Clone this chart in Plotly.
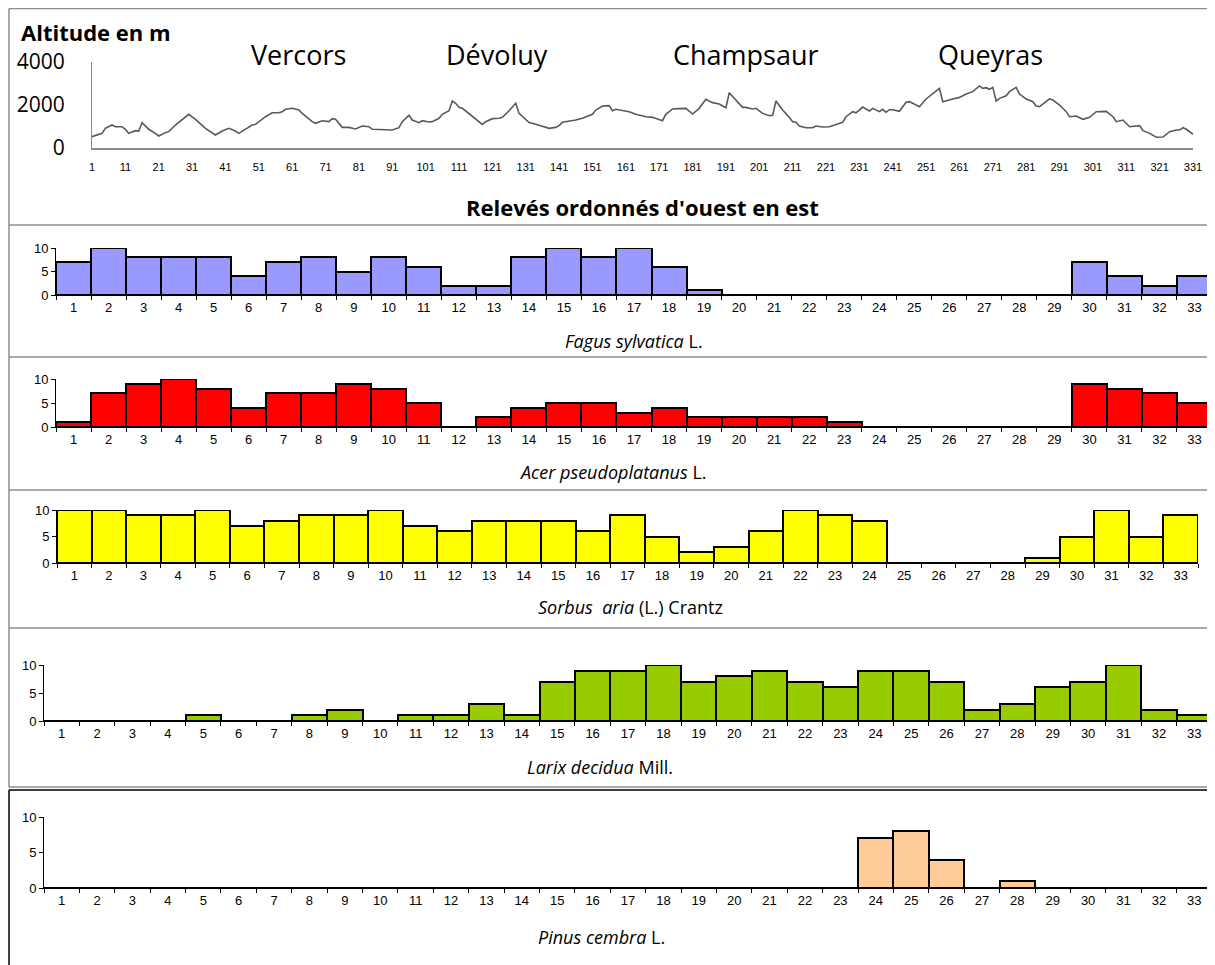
import plotly.graph_objects as go

# the page body adds an 8 px margin; the figure is placed so that page pixels match the reference
OFF = 8
W, H = 1215 - OFF, 965 - OFF

# ---------------- data ----------------
# altitude profile: (relevé number, altitude in m) vertices
releve = [1, 3, 4, 5, 7, 8, 10, 11, 12, 14, 15, 16, 18, 20, 21, 23, 24, 26, 28, 30,
          32, 35, 38, 40, 42, 44, 45, 47, 49, 50, 51, 53, 55, 57, 58, 59, 61, 63, 64, 66,
          67, 68, 70, 72, 73, 74, 76, 78, 80, 82, 84, 85, 88, 90, 91, 93, 94, 96, 97, 99,
          100, 102, 103, 105, 106, 108, 109, 110, 111, 112, 115, 118, 119, 121, 123, 124, 126, 128, 129, 131,
          132, 134, 136, 138, 140, 141, 142, 144, 146, 148, 151, 152, 154, 156, 157, 158, 159, 161, 162, 164,
          165, 167, 169, 170, 172, 173, 175, 177, 179, 181, 183, 185, 187, 189, 190, 191, 192, 194, 196, 197,
          199, 200, 202, 204, 205, 206, 208, 210, 211, 212, 213, 215, 217, 218, 220, 222, 224, 226, 227, 229,
          230, 232, 234, 235, 237, 238, 239, 240, 241, 243, 245, 246, 247, 249, 251, 253, 255, 256, 257, 259,
          261, 263, 265, 267, 268, 269, 270, 271, 272, 273, 275, 276, 278, 279, 281, 283, 284, 285, 288, 289,
          291, 293, 294, 296, 298, 300, 302, 304, 305, 307, 308, 310, 312, 315, 316, 318, 320, 322, 324, 326,
          327, 328, 329, 331]
altitude = [525, 605, 680, 915, 1070, 990, 990, 870, 680, 805, 790, 1180, 870, 680, 560, 715, 760, 1070, 1335, 1565,
            1335, 915, 605, 790, 915, 790, 680, 870, 1070, 1100, 1225, 1455, 1640, 1640, 1690, 1800, 1845, 1765, 1610, 1335,
            1225, 1150, 1270, 1225, 1365, 1335, 960, 960, 885, 1025, 990, 870, 870, 840, 840, 945, 1225, 1520, 1300, 1180,
            1270, 1210, 1225, 1380, 1565, 1735, 2185, 2080, 1890, 1845, 1490, 1100, 1225, 1365, 1380, 1425, 1735, 2080, 1610, 1335,
            1180, 1100, 990, 915, 960, 1040, 1195, 1240, 1300, 1380, 1565, 1765, 1955, 1970, 1735, 1800, 1765, 1690, 1690, 1565,
            1520, 1455, 1425, 1380, 1270, 1565, 1815, 1830, 1845, 1580, 1845, 2265, 2110, 2045, 1970, 1875, 2570, 2230, 1890, 1890,
            1815, 1845, 1610, 1505, 1520, 2185, 1765, 1425, 1225, 1195, 1025, 945, 945, 1025, 975, 990, 1100, 1195, 1455, 1690,
            1640, 1905, 1720, 1845, 1690, 1800, 1660, 1780, 1780, 1705, 2125, 2155, 2080, 1920, 2280, 2545, 2775, 2155, 2185, 2280,
            2355, 2510, 2620, 2885, 2775, 2805, 2730, 2820, 2185, 2310, 2430, 2620, 2820, 2510, 2280, 2155, 1955, 1920, 2280, 2230,
            2000, 1690, 1455, 1490, 1335, 1425, 1690, 1690, 1705, 1455, 1225, 1300, 990, 1040, 805, 680, 500, 510, 760, 840,
            840, 945, 870, 640]
alt_ticks = list(range(1, 332, 10))
regions = ["Vercors", "Dévoluy", "Champsaur", "Queyras"]

groups = [str(i) for i in range(1, 34)]
fagus = [7, 10, 8, 8, 8, 4, 7, 8, 5, 8, 6, 2, 2, 8, 10, 8, 10, 6, 1, 0,
         0, 0, 0, 0, 0, 0, 0, 0, 0, 7, 4, 2, 4]
acer = [1, 7, 9, 10, 8, 4, 7, 7, 9, 8, 5, 0, 2, 4, 5, 5, 3, 4, 2, 2,
        2, 2, 1, 0, 0, 0, 0, 0, 0, 9, 8, 7, 5]
sorbus = [10, 10, 9, 9, 10, 7, 8, 9, 9, 10, 7, 6, 8, 8, 8, 6, 9, 5, 2, 3,
          6, 10, 9, 8, 0, 0, 0, 0, 1, 5, 10, 5, 9]
larix = [0, 0, 0, 0, 1, 0, 0, 1, 2, 0, 1, 1, 3, 1, 7, 9, 9, 10, 7, 8,
         9, 7, 6, 9, 9, 7, 2, 3, 6, 7, 10, 2, 1]
pinus = [0, 0, 0, 0, 0, 0, 0, 0, 0, 0, 0, 0, 0, 0, 0, 0, 0, 0, 0, 0,
         0, 0, 0, 7, 8, 4, 0, 1, 0, 0, 0, 0, 0]

species = [
    ("<i>Fagus sylvatica</i> L.", fagus, "#9999FF"),
    ("<i>Acer pseudoplatanus</i> L.", acer, "#FF0000"),
    ("<i>Sorbus  aria</i> (L.) Crantz", sorbus, "#FFFF00"),
    ("<i>Larix decidua</i> Mill.", larix, "#99CC00"),
    ("<i>Pinus cembra</i> L.", pinus, "#FFCC99"),
]

# ---------------- layout helpers (page pixel -> paper) ----------------
def px(x):
    return (x - OFF) / W

def py(y):
    return 1 - (y - OFF) / H

fig = go.Figure()
layout = dict(
    width=W, height=H, margin=dict(l=0, r=0, t=0, b=0, autoexpand=False),
    paper_bgcolor="white", plot_bgcolor="white", showlegend=False,
    bargap=0, font=dict(family="Liberation Sans", color="black"),
)

# altitude panel
fig.add_trace(go.Scatter(x=releve, y=altitude, mode="lines",
                         line=dict(color="#595959", width=1.6),
                         xaxis="x", yaxis="y", hoverinfo="skip"))
layout["xaxis"] = dict(domain=[px(92), px(1193)], range=[1, 331], tickvals=alt_ticks,
                       ticktext=[str(t) for t in alt_ticks], showgrid=False, zeroline=False,
                       showline=True, linecolor="#8C8C8C", linewidth=2, ticks="",
                       tickfont=dict(size=11, family="Liberation Sans"), anchor="y",
                       ticklabelstandoff=8, automargin=False)
layout["yaxis"] = dict(domain=[py(148), py(62)], range=[0, 4000], tickvals=[0, 2000, 4000],
                       showgrid=False, zeroline=False, showline=True, linecolor="#8C8C8C",
                       linewidth=1, ticks="", tickfont=dict(size=21, family="Open Sans"),
                       anchor="x", ticklabelstandoff=22, automargin=False)

# bar panels: (x0, x1, y_zero, y_ten, title y) in page pixels
panels = [
    (56, 1212, 295, 248, 341),
    (56, 1212, 427, 379, 472),
    (57, 1198, 563, 510, 607),
    (44, 1212, 721, 665, 767),
    (44, 1212, 888, 817, 937),
]

for k, ((title, vals, color), (x0, x1, y0, y10, ytitle)) in enumerate(zip(species, panels)):
    n = k + 2
    xa, ya = f"x{n}", f"y{n}"
    fig.add_trace(go.Bar(x=groups, y=vals, marker=dict(color=color, line=dict(color="black", width=2)),
                         xaxis=xa, yaxis=ya, hoverinfo="skip"))
    layout[f"xaxis{n}"] = dict(domain=[px(x0), px(x1)], type="category", showgrid=False,
                               zeroline=False, showline=True, linecolor="black", linewidth=1,
                               ticks="outside", ticklen=4, tickson="boundaries", tickcolor="black",
                               tickfont=dict(size=13), anchor=ya, automargin=False)
    layout[f"yaxis{n}"] = dict(domain=[py(y0), py(y10)], range=[0, 10], tickvals=[0, 5, 10],
                               showgrid=False, zeroline=False, showline=True, linecolor="black",
                               linewidth=1, ticks="outside", ticklen=4, tickcolor="black",
                               tickfont=dict(size=13), anchor=xa, automargin=False)

annotations = []
annotations.append(dict(text="<b>Altitude en m</b>", x=px(19), y=py(32), xref="paper", yref="paper",
                        xanchor="left", yanchor="middle", showarrow=False,
                        font=dict(size=22, family="Open Sans")))
for name, cx in zip(regions, [298, 497, 746, 990]):
    annotations.append(dict(text=name, x=px(cx), y=py(55), xref="paper", yref="paper",
                            xanchor="center", yanchor="middle", showarrow=False,
                            font=dict(size=27, family="Open Sans")))
annotations.append(dict(text="<b>Relevés ordonnés d'ouest en est</b>", x=px(642), y=py(207),
                        xref="paper", yref="paper", xanchor="center", yanchor="middle",
                        showarrow=False, font=dict(size=22, family="Open Sans")))
for (title, _, _), cx, p in zip(species, [634, 613, 630, 600, 601], panels):
    annotations.append(dict(text=title, x=px(cx), y=py(p[4]), xref="paper", yref="paper",
                            xanchor="center", yanchor="middle", showarrow=False,
                            font=dict(size=18, family="Open Sans")))
layout["annotations"] = annotations

shapes = []
def hline(y, x0, x1, color, w=1):
    shapes.append(dict(type="line", xref="paper", yref="paper", x0=px(x0), x1=px(x1),
                       y0=py(y), y1=py(y), line=dict(color=color, width=w)))
def vline(x, y0, y1, color, w=1):
    shapes.append(dict(type="line", xref="paper", yref="paper", x0=px(x), x1=px(x),
                       y0=py(y0), y1=py(y1), line=dict(color=color, width=w)))

gray = "#8C8C8C"
hline(8.5, 9, 1215, gray, 1.5)
vline(9, 8.5, 787, gray, 1.5)
for y in [225, 357, 490, 628, 787]:
    hline(y, 9, 1215, gray, 1.5)
hline(790, 9, 1215, "black", 1.5)
vline(9, 790, 965, "black", 1.5)
layout["shapes"] = shapes

fig.update_layout(**layout)
fig.write_html("out.html")
